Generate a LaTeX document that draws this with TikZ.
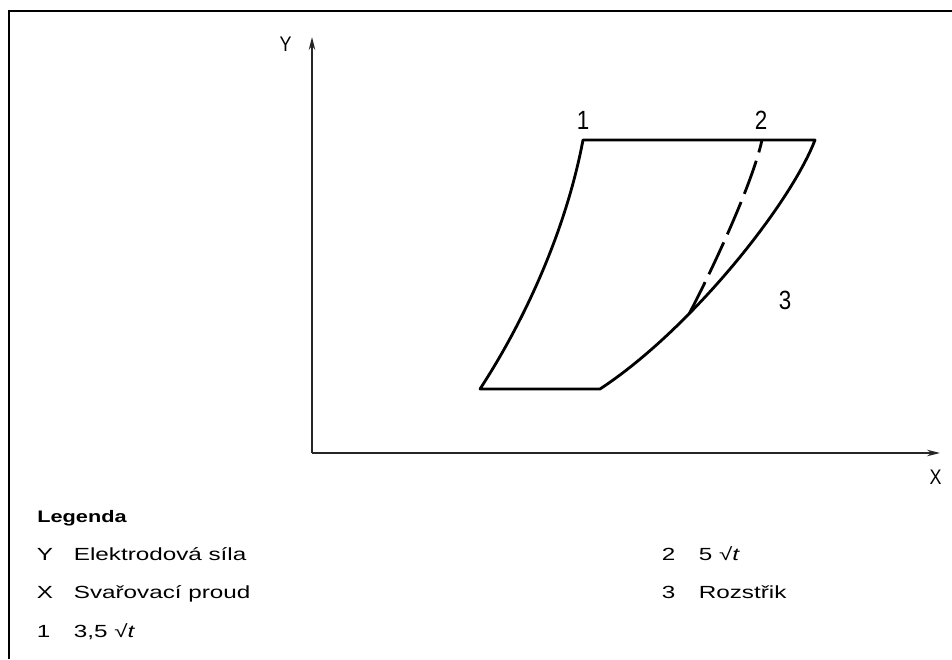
\documentclass[tikz,border=0pt]{standalone}
\usepackage{fontspec}
\setmainfont{Liberation Sans}
\newfontfamily\legfont[FakeStretch=1.38]{Liberation Sans}
\newfontfamily\headfont[FakeStretch=1.3]{Liberation Sans}
\newfontfamily\isofont[FakeStretch=0.85]{Liberation Sans}
\usetikzlibrary{arrows.meta}

\begin{document}
\begin{tikzpicture}[x=1cm,y=1cm,>={Stealth[length=0.26cm,width=0.13cm]},
  curve/.style={line width=1.6pt,line join=round},
  axis/.style={->,line width=0.9pt,black!85},
  digit/.style={font=\isofont\fontsize{15}{18}\selectfont},
  leg/.style={anchor=base west,inner xsep=0pt,font=\legfont\fontsize{10}{12}\selectfont}]
\useasboundingbox (0,0) rectangle (19.04,13.18);
% frame
\draw[line width=1.7pt] (0.18,0) -- (0.18,12.96) -- (19.04,12.96);

% axes
\coordinate (o) at (6.24,4.12);
\draw[axis] (o) -- (6.24,12.44);
\draw[axis] (o) -- (18.8,4.12);
\node[font=\isofont\fontsize{12}{14}\selectfont] (ylab) at (5.71,12.29) {Y};
\node[font=\isofont\fontsize{12}{14}\selectfont] (xlab) at (18.71,3.63) {X};

% field
\coordinate (top1) at (11.66,10.38);
\coordinate (top2) at (15.24,10.38);
\draw[curve] (top1) .. controls (11.32,8.58) and (10.5,6.78) .. (9.6,5.4)
  -- (12.0,5.4) .. controls (13.8,6.58) and (15.8,9.08) .. (16.3,10.38)
  coordinate[pos=0.33] (junc) -- cycle;
\draw[curve,dash pattern=on 20pt off 5pt] (junc) .. controls (14.24,7.78) and (15.04,9.48) .. (top2);

\node[digit] (n1) at (11.66,10.78) {1};
\node[digit] (n2) at (15.22,10.78) {2};
\node[digit] (n3) at (15.7,7.18) {3};

% legend
\node[leg,font=\headfont\fontsize{9.5}{11}\selectfont\bfseries] (leg) at (0.74,2.74) {Legenda};
\node[leg] (ky) at (0.73,1.98) {Y};
\node[leg] (ty) at (1.47,1.98) {Elektrodová síla};
\node[leg] (kx) at (0.73,1.22) {X};
\node[leg] (tx) at (1.47,1.22) {Svařovací proud};
\node[leg] (k1) at (0.73,0.44) {1};
\node[leg] (t1) at (1.47,0.44) {3,5 √\textit{t}};
\node[leg] (k2) at (13.23,1.98) {2};
\node[leg] (t2) at (13.97,1.98) {5 √\textit{t}};
\node[leg] (k3) at (13.23,1.22) {3};
\node[leg] (t3) at (13.97,1.22) {Rozstřik};
\end{tikzpicture}
\end{document}
